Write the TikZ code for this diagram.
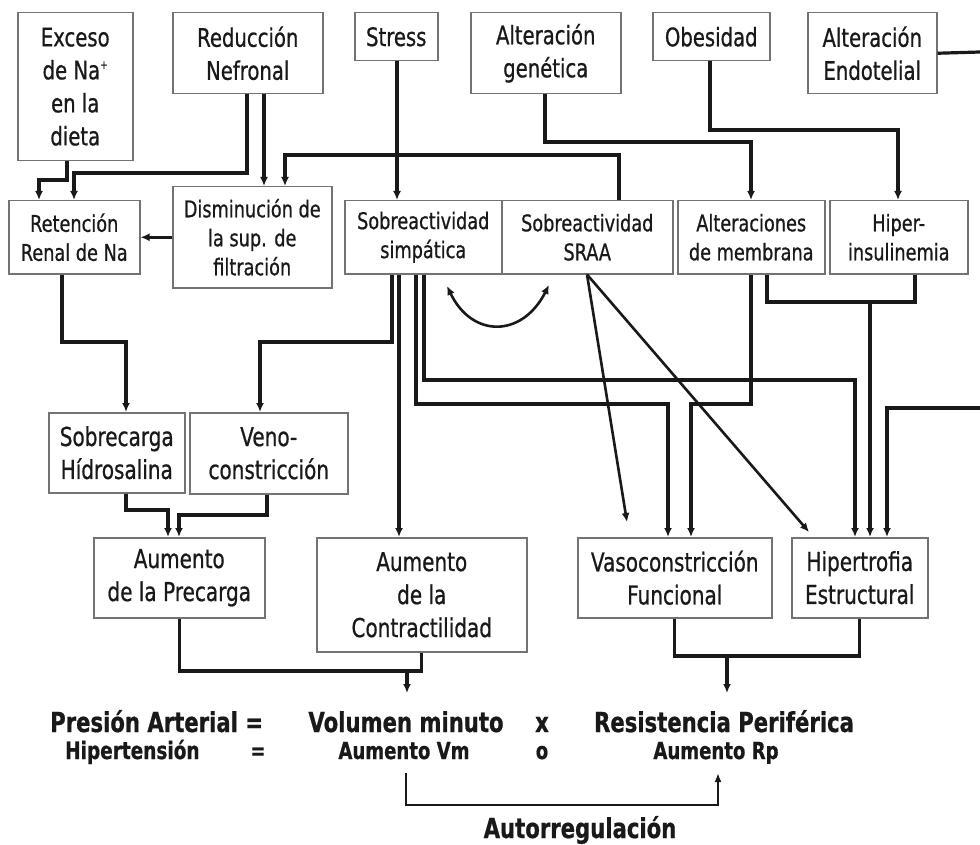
\documentclass[tikz,border=0pt]{standalone}
\usepackage{fontspec}
\setmainfont{DejaVu Sans}[FakeStretch=0.77,FakeBold=0.7]
\usetikzlibrary{arrows.meta}
\begin{document}
\begin{tikzpicture}[x=1pt,y=-1pt,
  box/.style={draw=black!55,line width=1.5pt,fill=white,rectangle,inner sep=0pt,align=center,anchor=north west,text=black!90},
  ftop/.style={font=\fontsize{25.5}{33}\selectfont},
  fmid/.style={font=\fontsize{23}{29}\selectfont},
  flow/.style={font=\fontsize{26}{33}\selectfont},
  con/.style={line width=3.2pt,black!90},
  arr/.style={con,-{Latex[length=9pt,width=8pt]}},
  darr/.style={line width=2.6pt,black!90,-{Latex[length=9pt,width=8pt]}},
  bigb/.style={font=\bfseries\fontsize{27.5}{30}\selectfont,inner sep=0pt,text=black!90},
  smb/.style={font=\bfseries\fontsize{23.5}{26}\selectfont,inner sep=0pt,text=black!90}]
\useasboundingbox[fill=white] (0,0) rectangle (980,845);

% top row
\node[box,ftop,minimum width=115pt,minimum height=148pt] (exceso) at (17,12) {Exceso\\de Na\raisebox{0.75ex}{\fontsize{12}{12}\selectfont +}\\en la\\dieta};
\node[box,ftop,minimum width=150pt,minimum height=81pt] (reduc) at (172,12) {Reducción\\Nefronal};
\node[box,ftop,minimum width=83pt,minimum height=48pt] (stress) at (354,12) {Stress};
\node[box,ftop,minimum width=150pt,minimum height=81pt] (altgen) at (470,12) {Alteración\\genética};
\node[box,ftop,minimum width=117pt,minimum height=48pt] (obes) at (652,12) {Obesidad};
\node[box,ftop,minimum width=129pt,minimum height=81pt] (endot) at (807,12) {Alteración\\Endotelial};

% second row
\node[box,fmid,minimum width=131pt,minimum height=73pt] (reten) at (8,200) {Retención\\Renal de Na};
\node[box,fmid,minimum width=159pt,minimum height=101pt] (dismin) at (172,186) {Disminución de\\la sup. de\\filtración};
\node[box,fmid,minimum width=157pt,minimum height=73pt] (simpa) at (344,200) {Sobreactividad\\simpática};
\node[box,fmid,minimum width=171pt,minimum height=73pt] (sraa) at (501,200) {Sobreactividad\\SRAA};
\node[box,fmid,minimum width=147pt,minimum height=73pt] (membr) at (677,200) {Alteraciones\\de membrana};
\node[box,fmid,minimum width=138pt,minimum height=73pt] (hiper) at (829,200) {Hiper-\\insulinemia};

% third row
\node[box,flow,minimum width=136pt,minimum height=80pt] (sobrec) at (48,412) {Sobrecarga\\Hídrosalina};
\node[box,flow,minimum width=158pt,minimum height=81pt] (veno) at (189,412) {Veno-\\constricción};

% fourth row
\node[box,flow,minimum width=171pt,minimum height=80pt] (precar) at (93,537) {Aumento\\de la Precarga};
\node[box,flow,minimum width=210pt,minimum height=114pt] (contr) at (316,537) {Aumento\\de la\\Contractilidad};
\node[box,flow,minimum width=194pt,minimum height=80pt] (vasoc) at (577,537) {Vasoconstricción\\Funcional};
\node[box,flow,minimum width=136pt,minimum height=80pt] (hipert) at (791,537) {Hipertrofia\\Estructural};

% bottom texts
\node[bigb,anchor=base west] (pa) at (50,732) {Presión Arterial =};
\node[smb,anchor=base west,font=\bfseries\fontsize{24}{26}\selectfont] (hta) at (65,759) {Hipertensión};
\node[smb,anchor=base] (eq2) at (258,759) {=};
\node[bigb,anchor=base] (vm) at (406,732) {Volumen minuto};
\node[smb,anchor=base] (avm) at (404,759) {Aumento Vm};
\node[bigb,anchor=base] (xx) at (542,732) {x};
\node[smb,anchor=base] (oo) at (542,759) {o};
\node[bigb,anchor=base] (rp) at (724,732) {Resistencia Periférica};
\node[smb,anchor=base] (arp) at (716,759) {Aumento Rp};
\node[bigb,anchor=base] (auto) at (580,838) {Autorregulación};

% free coordinates
\coordinate (edgeA) at (980,52);
\coordinate (edgeB) at (980,408);
\coordinate (diagA) at (627,522);
\coordinate (diagB) at (809,532);
\coordinate (curA) at (447,286);
\coordinate (curB) at (549,285);
\coordinate (vmTip) at (407,693);
\coordinate (rpTip) at (727,693);
\coordinate (autoA) at (406,773);
\coordinate (autoB) at (718,773);

% connectors top
\draw[arr] (67,0 |- exceso.south) -- (67,180) -- (39,180) -- (39,0 |- reten.north);
\draw[arr] (247,0 |- reduc.south) -- (247,173) -- (74,173) -- (74,0 |- reten.north);
\draw[arr] (264,0 |- reduc.south) -- (264,0 |- dismin.north);
\draw[arr] (619,0 |- sraa.north) -- (619,155) -- (285,155) -- (285,0 |- dismin.north);
\draw[arr] (397,0 |- stress.south) -- (397,0 |- simpa.north);
\draw[arr] (545,0 |- altgen.south) -- (545,142) -- (751,142) -- (751,0 |- membr.north);
\draw[arr] (710,0 |- obes.south) -- (710,130) -- (898,130) -- (898,0 |- hiper.north);
\draw[con] (endot.east) -- (edgeA);
\draw[arr] (dismin.west) -- (reten.east |- dismin.west);

% middle connectors
\draw[arr] (62,0 |- reten.south) -- (62,342) -- (126,342) -- (126,0 |- sobrec.north);
\draw[arr] (392,0 |- simpa.south) -- (392,342) -- (260,342) -- (260,0 |- veno.north);
\draw[arr] (399,0 |- simpa.south) -- (399,0 |- contr.north);
\draw[arr] (424,0 |- simpa.south) -- (424,380) -- (855,380) -- (855,0 |- hipert.north);
\draw[arr] (416,0 |- simpa.south) -- (416,404) -- (668,404) -- (668,0 |- vasoc.north);
\draw[arr] (751,0 |- membr.south) -- (751,404) -- (691,404) -- (691,0 |- vasoc.north);
\draw[con] (767,0 |- membr.south) -- (767,302) -- (915,302) -- (915,0 |- hiper.south);
\draw[arr] (870,302) -- (870,0 |- hipert.north);
\draw[arr] (edgeB) -- (887,408) -- (887,0 |- hipert.north);
\draw[darr] (587,0 |- sraa.south) -- (diagA);
\draw[darr] (587,0 |- sraa.south) -- (diagB);
\draw[line width=2.6pt,black!90,{Latex[length=9pt,width=8pt]}-{Latex[length=9pt,width=8pt]}] (curA) .. controls (472,338) and (522,338) .. (curB);

% lower connectors
\draw[arr] (126,0 |- sobrec.south) -- (126,510) -- (168,510) -- (168,0 |- precar.north);
\draw[arr] (267,0 |- veno.south) -- (267,515) -- (179,515) -- (179,0 |- precar.north);
\draw[con] (precar.south) -- (precar.south |- 0,671) -- (contr.south |- 0,671) -- (contr.south);
\draw[arr] (407,671) -- (vmTip);
\draw[con] (vasoc.south) -- (vasoc.south |- 0,656) -- (hipert.south |- 0,656) -- (hipert.south);
\draw[arr] (727,656) -- (rpTip);
\draw[line width=2.6pt,black!90,-{Latex[length=9pt,width=7pt]}] (autoA) -- (406,805) -- (718,805) -- (autoB);
\end{tikzpicture}
\end{document}
